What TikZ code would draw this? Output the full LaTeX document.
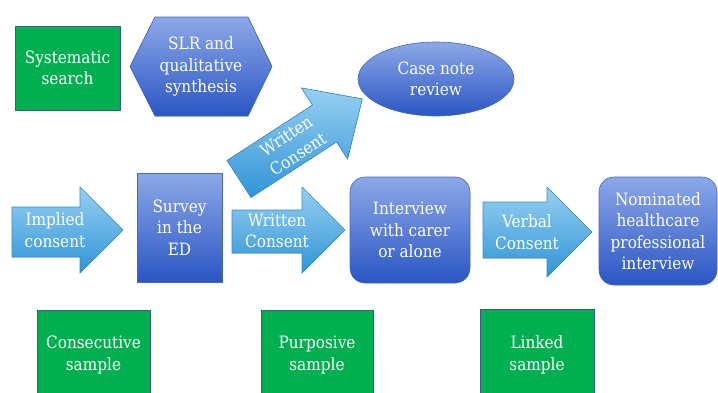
\documentclass[tikz,border=0pt]{standalone}
\usepackage{fontspec}
\setmainfont{DejaVu Serif Condensed}
\usepackage{xcolor}
\usetikzlibrary{shapes.geometric, positioning}

\definecolor{sampgreen}{RGB}{0,176,80}
\definecolor{sampedge}{RGB}{56,93,138}
\definecolor{boxtop}{RGB}{140,168,232}
\definecolor{boxbot}{RGB}{42,86,196}
\definecolor{boxedge}{RGB}{70,105,185}
\definecolor{arrtop}{RGB}{150,208,242}
\definecolor{arrbot}{RGB}{48,148,214}
\definecolor{arredge}{RGB}{60,140,200}

\begin{document}
\begin{tikzpicture}[
    x=1pt, y=-1pt,
    font=\fontsize{17}{21.5}\selectfont,
    txt/.style={text=white, align=center, inner sep=0pt},
    samplebox/.style={txt, fill=sampgreen, draw=sampedge, line width=0.6pt},
    stagebox/.style={txt, top color=boxtop, bottom color=boxbot, draw=boxedge, line width=0.6pt},
    blockarrow/.style={top color=arrtop, bottom color=arrbot, draw=arredge, line width=0.6pt, line join=miter}
]
\useasboundingbox (0,0) rectangle (718,392);
\clip (0,0) rectangle (718,392);

% ---- top row ----
\node[samplebox, minimum width=105, minimum height=84] (search) at (67.5,68) {Systematic\\search};
\filldraw[stagebox] (130,66.5) -- (155,17) -- (248,17) -- (272,66.5) -- (248,116) -- (155,116) -- cycle;
\node[txt] (slr) at (201,66.5) {SLR and\\qualitative\\synthesis};
\node[stagebox, ellipse, minimum width=156, minimum height=74] (casenote) at (436,79) {Case note\\review};

% ---- block arrows ----
\filldraw[blockarrow] (12,207) -- (80,207) -- (80,187) -- (123,230) -- (80,273) -- (80,257) -- (12,257) -- cycle;
\node[txt] (implied) at (55,230) {Implied\\consent};

\filldraw[blockarrow] (232,210) -- (302,210) -- (302,187) -- (345,230) -- (302,273) -- (302,253) -- (232,253) -- cycle;
\node[txt] (written) at (277,231) {Written\\Consent};

\filldraw[blockarrow] (227,160.5) -- (312.5,105) -- (301.4,87.9) -- (362.3,98.9)
    -- (347.6,159.1) -- (336.5,142) -- (251,197.5) -- cycle;
\node[txt, rotate=33] (writtendiag) at (292,145) {Written\\Consent};

\filldraw[blockarrow] (483,202) -- (547,202) -- (547,187) -- (592,232) -- (547,277) -- (547,258) -- (483,258) -- cycle;
\node[txt] (verbal) at (527,232) {Verbal\\Consent};

% ---- middle row ----
\node[stagebox, minimum width=85, minimum height=109] (survey) at (179.5,227.5) {Survey\\in the\\ED};
\node[stagebox, rounded corners=15pt, minimum width=120, minimum height=106] (interview) at (410,230) {Interview\\with carer\\or alone};
\node[stagebox, rounded corners=15pt, minimum width=118, minimum height=108] (nominated) at (658,231) {Nominated\\healthcare\\professional\\interview};

% ---- bottom row ----
\node[samplebox, minimum width=113, minimum height=90] (consecutive) at (93.5,355) {Consecutive\\sample};
\node[samplebox, minimum width=112, minimum height=90] (purposive) at (317,355) {Purposive\\sample};
\node[samplebox, minimum width=114, minimum height=92] (linked) at (537,355) {Linked\\sample};

\end{tikzpicture}
\end{document}
